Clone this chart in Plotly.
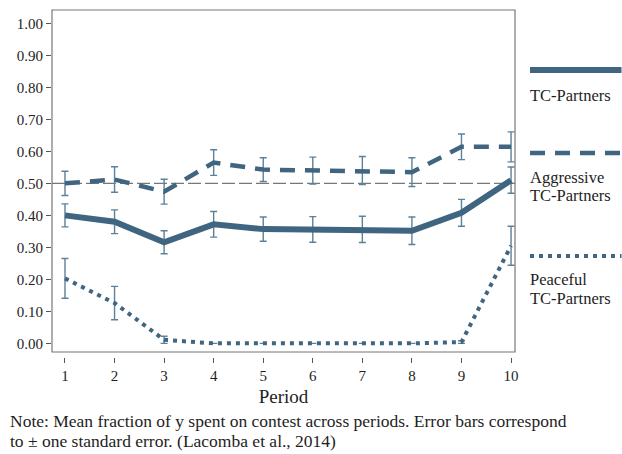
import plotly.graph_objects as go

periods = [1, 2, 3, 4, 5, 6, 7, 8, 9, 10]
tc_mean = [0.400, 0.380, 0.316, 0.372, 0.357, 0.356, 0.356, 0.352, 0.408, 0.510]
tc_se = [0.036, 0.037, 0.036, 0.040, 0.038, 0.040, 0.041, 0.043, 0.042, 0.041]
agg_mean = [0.500, 0.512, 0.474, 0.565, 0.543, 0.540, 0.540, 0.535, 0.614, 0.614]
agg_se = [0.038, 0.040, 0.039, 0.040, 0.037, 0.042, 0.044, 0.045, 0.040, 0.047]
pea_mean = [0.203, 0.126, 0.011, 0.0, 0.0, 0.0, 0.0, 0.0, 0.004, 0.305]
pea_se = [0.062, 0.052, 0.011, None, None, None, None, None, 0.004, 0.061]
y_ticks = [0.0, 0.1, 0.2, 0.3, 0.4, 0.5, 0.6, 0.7, 0.8, 0.9, 1.0]
reference_level = 0.5
legend_labels = [["TC-Partners"], ["Aggressive", "TC-Partners"], ["Peaceful", "TC-Partners"]]
note_lines = ["Note: Mean fraction of y spent on contest across periods. Error bars correspond",
              "to \u00b1 one standard error. (Lacomba et al., 2014)"]

LINE = "#3f6580"
ERR = "#5d8199"
FONT = "Liberation Serif"
TXT = "#1e1e1e"

fig = go.Figure()

def add_series(y, se, dash, width):
    fig.add_trace(go.Scatter(
        x=periods, y=y, mode="lines",
        line=dict(color=LINE, width=width, dash=dash),
        error_y=dict(type="data", array=se, visible=True, color=ERR, thickness=1.4, width=3.5),
        showlegend=False, hoverinfo="skip",
    ))

add_series(tc_mean, tc_se, "solid", 6)
add_series(agg_mean, agg_se, "15px,10px", 4.5)
add_series(pea_mean, pea_se, "4px,5px", 4)

# reference line at 0.50
fig.add_shape(type="line", xref="x domain", yref="y", x0=0, x1=1,
              y0=reference_level, y1=reference_level,
              line=dict(color="#777777", width=1.2, dash="13px,4px"), layer="below")
# plot box
fig.add_shape(type="rect", xref="x domain", yref="y domain", x0=0, x1=1, y0=0, y1=1,
              line=dict(color="#777777", width=1.2))

# custom legend
leg = [(0.827, "solid", 6, legend_labels[0], [0.755]),
       (0.588, "15px,10px", 4.5, legend_labels[1], [0.518, 0.464]),
       (0.291, "4px,5px", 4, legend_labels[2], [0.224, 0.170])]
for ly, dash, w, lines, tys in leg:
    fig.add_shape(type="line", xref="paper", yref="paper", x0=1.0324, x1=1.23, y0=ly, y1=ly,
                  line=dict(color=LINE, width=w, dash=dash))
    for txt, ty in zip(lines, tys):
        fig.add_annotation(xref="paper", yref="paper", x=1.0324, y=ty, text=txt, showarrow=False,
                           xanchor="left", yanchor="middle", align="left", xshift=-2,
                           font=dict(family=FONT, size=16.5, color=TXT))

for txt, ty in zip(note_lines, [-0.184, -0.242]):
    fig.add_annotation(xref="paper", yref="paper", x=-0.0907, y=ty, xanchor="left", yanchor="middle",
                       align="left", showarrow=False, xshift=-2, text=txt,
                       font=dict(family=FONT, size=17.5, color=TXT))

fig.update_layout(
    width=622, height=454,
    margin=dict(l=52, r=107, t=10, b=97),
    paper_bgcolor="white", plot_bgcolor="white",
    font=dict(family=FONT, size=15, color=TXT),
    xaxis=dict(range=[0.738, 10.08], tickvals=periods, ticktext=[str(p) for p in periods],
               ticks="outside", ticklen=5, tickcolor="#555555", showgrid=False, zeroline=False,
               showline=False, anchor="free", position=0,
               title=dict(text="Period", font=dict(family=FONT, size=19), standoff=6)),
    yaxis=dict(range=[-0.027, 1.0417], domain=[0.0144, 1], tickvals=y_ticks, tickformat=".2f",
               ticks="outside", ticklen=5, tickcolor="#555555", showgrid=False, zeroline=False,
               showline=False),
)

fig.write_html("out.html", post_script="document.body.style.margin='0px';",
               config={"displayModeBar": False})
